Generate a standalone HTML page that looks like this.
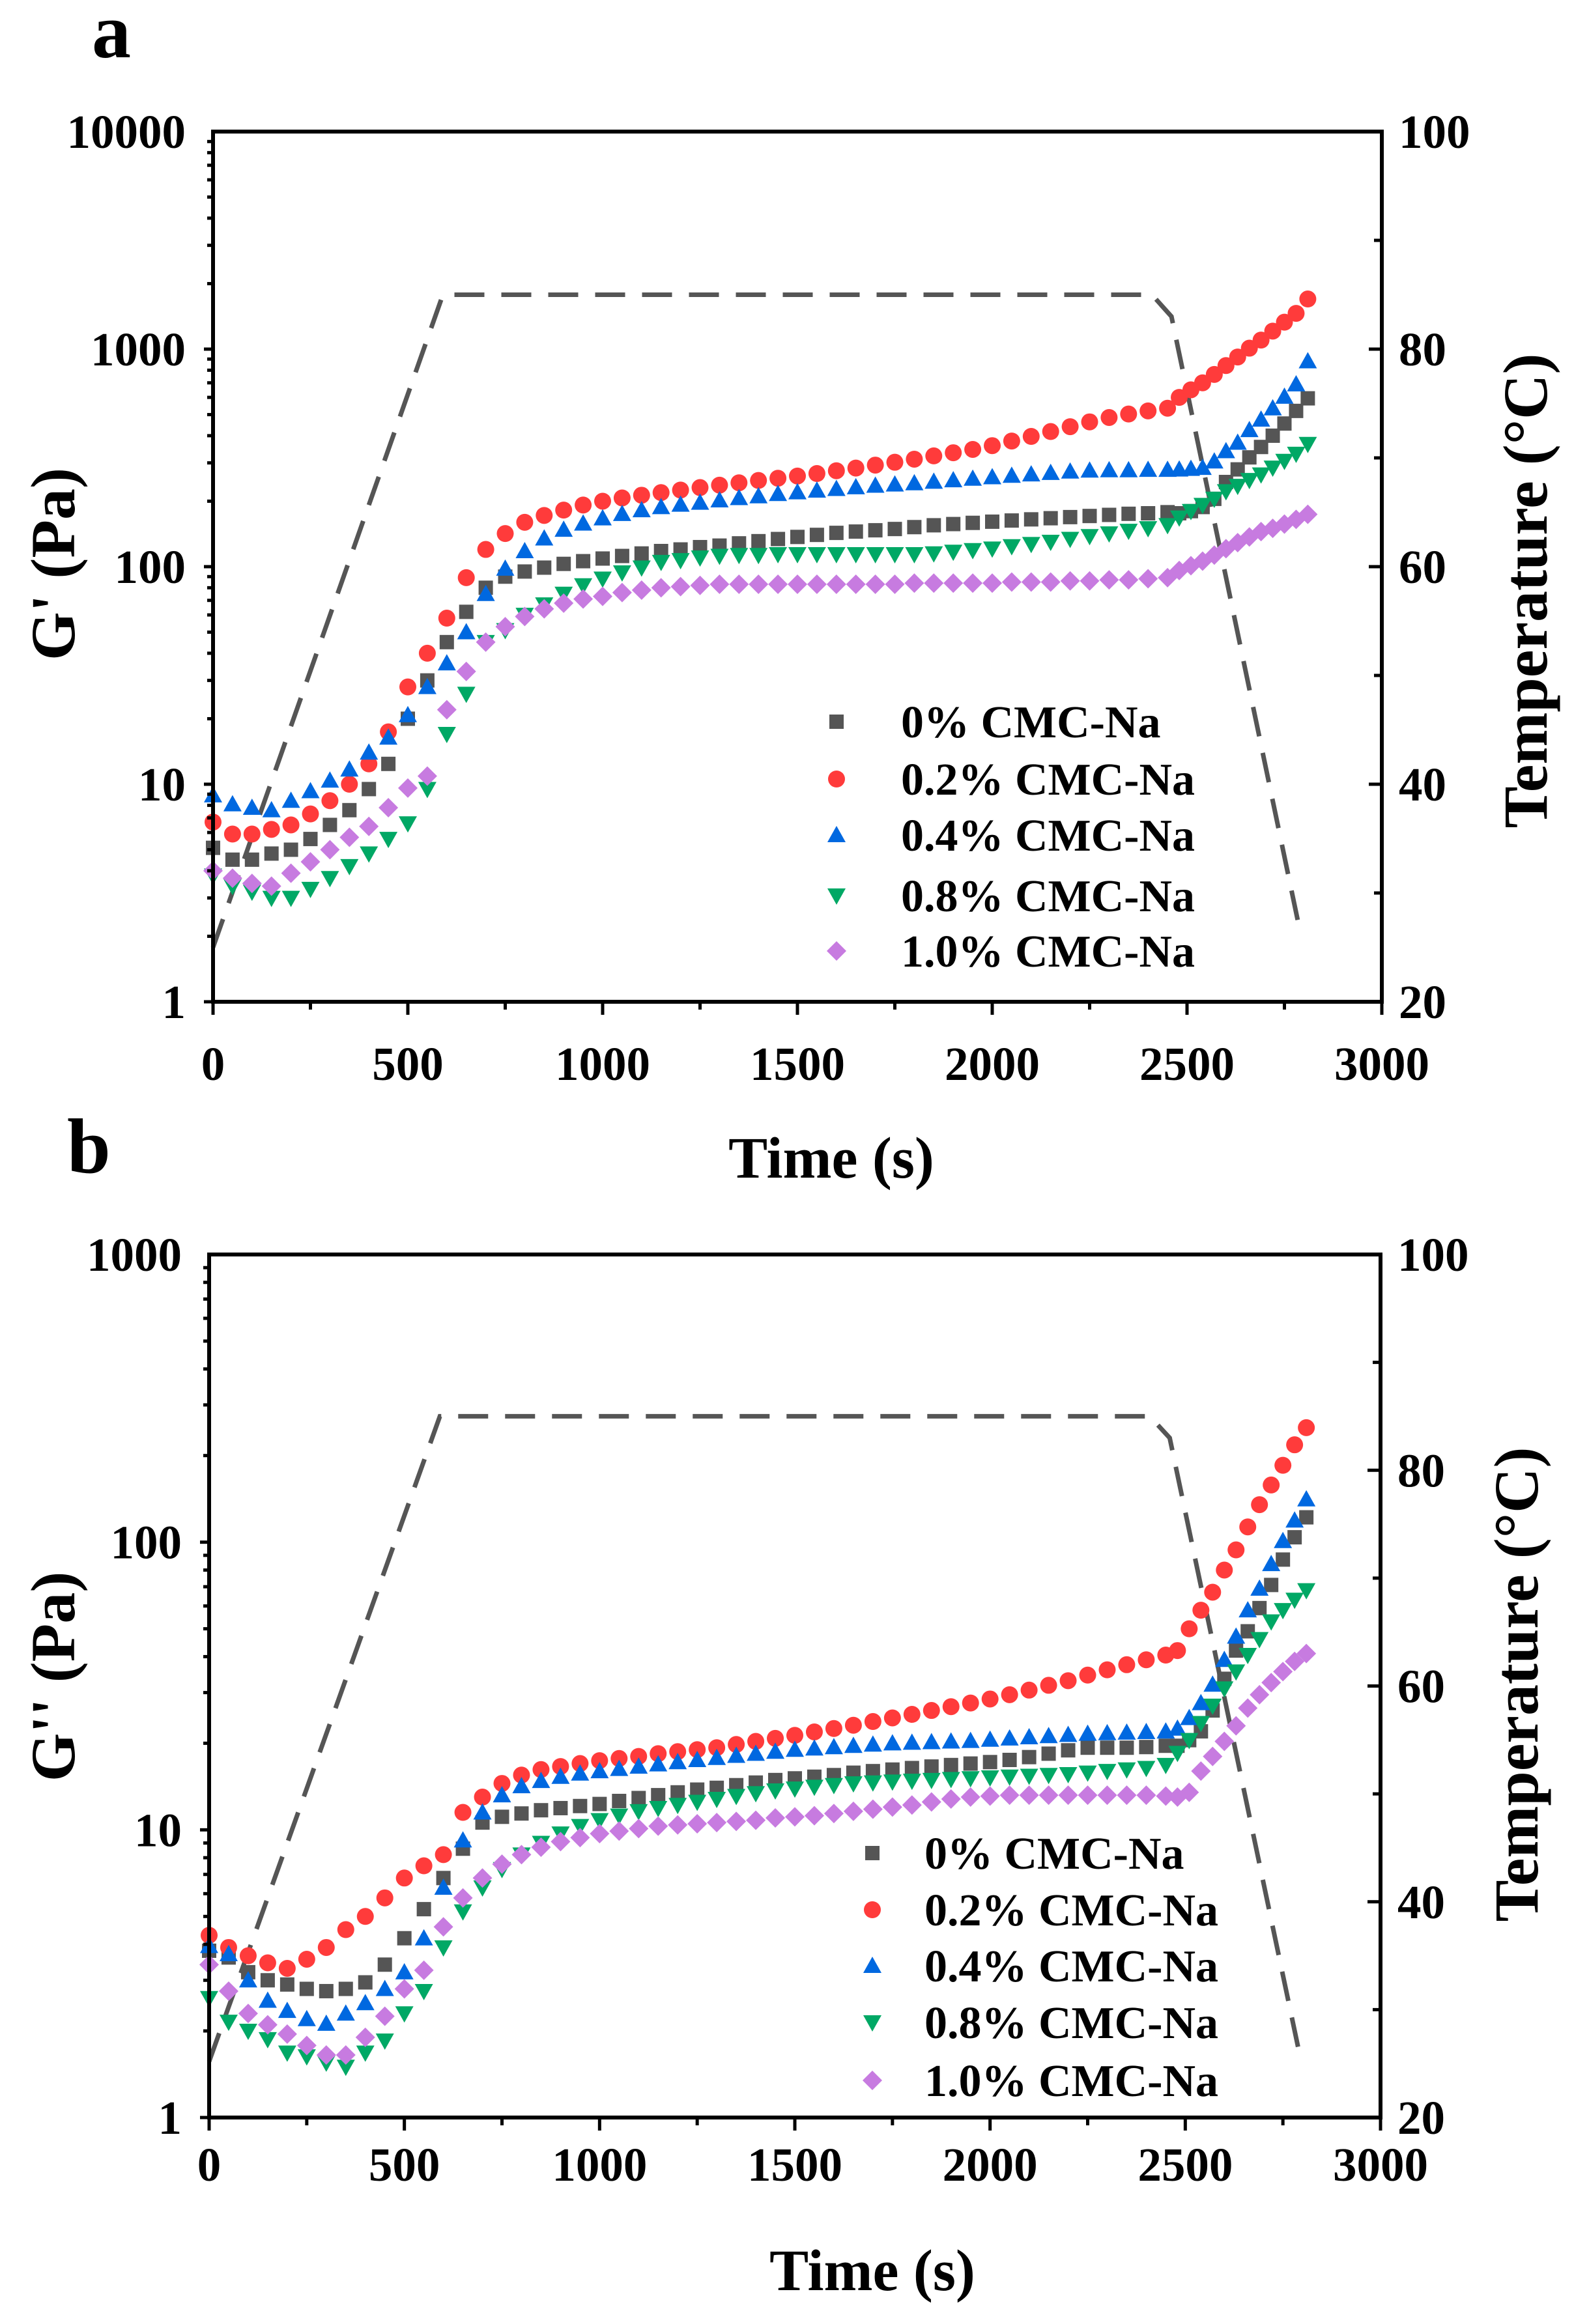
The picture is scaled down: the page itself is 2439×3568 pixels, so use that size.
<!DOCTYPE html>
<html><head><meta charset="utf-8"><style>
html,body{margin:0;padding:0;background:#fff}
svg{display:block}
text{font-family:"Liberation Serif",serif;font-weight:bold;fill:#000}
</style></head><body>
<svg id="fig" width="2439" height="3568" viewBox="0 0 2439 3568" xmlns="http://www.w3.org/2000/svg"></svg>
<script>
// shared time grid (s)
const timeGrid = [0,50,100,150,200,250,300,350,400,450,500,550,600,
650,700,750,800,850,900,950,1000,1050,1100,1150,1200,1250,1300,1350,1400,1450,1500,1550,1600,1650,1700,1750,1800,1850,1900,1950,2000,2050,2100,2150,2200,2250,2300,2350,2400,2450,
2480,2510,2540,2570,2600,2630,2660,2690,2720,2750,2780,2810];
// panel a: G' (Pa)
const gA0 = [5.1,4.5,4.5,4.8,5.0,5.6,6.5,7.6,9.5,12.4,20,30,45,
62,80,90,95,99,103,106,109,112,115,118,120,123,125,128,131,134,137,140,143,145,147,149,152,155,157,159,161,163,165,167,169,171,173,175,176,178,
176,180,188,205,245,280,318,355,400,455,520,594];
const gA2 = [6.7,5.9,5.9,6.2,6.5,7.3,8.4,10,12.4,17.4,28,40,58,
89,120,142,160,172,182,192,200,207,213,219,225,231,237,243,249,255,261,268,276,284,293,302,312,323,334,346,360,378,397,418,440,463,485,503,520,535,
600,650,700,765,840,920,1010,1100,1210,1330,1460,1700];
const gA4 = [8.9,8.1,7.8,7.6,8.4,9.3,10.4,11.7,14,16.4,20.8,28,36,
50,75,98,118,135,148,158,167,175,182,188,193,197,202,207,211,216,220,224,228,232,236,239,242,246,250,254,258,262,266,270,274,277,278,278,279,279,
280,282,285,305,340,372,425,475,535,605,690,880];
const gA8 = [3.8,3.4,3.2,3.0,3.0,3.3,3.7,4.2,4.8,5.6,6.6,9.5,17,
26,45,51,60,67,75,82,88,94,99,105,107,110,112,113,113,114,114,114,114,114,114,114,114,115,117,119,121,124,127,130,134,138,142,146,150,155,
168,180,192,205,222,235,250,265,285,306,330,366];
const gA10 = [4.0,3.7,3.5,3.4,3.9,4.4,5.0,5.7,6.4,7.8,9.6,10.9,22,
33,45,53,59,64,68,71,73,76,78,80,81,82,83,83,83,83,83,83,83,83,83,83,84,84,84,84,84,85,85,85,86,86,87,87,88,89,
96,101,106,113,121,129,137,145,150,157,165,174];
// panel b: G'' (Pa)
const gB0 = [3.8,3.6,3.2,3.0,2.9,2.8,2.75,2.8,2.95,3.4,4.2,5.3,6.8,
8.6,10.6,11.1,11.4,11.7,11.9,12.1,12.3,12.6,12.9,13.2,13.5,13.8,14.0,14.3,14.6,14.9,15.1,15.3,15.5,15.8,16.0,16.2,16.4,16.6,16.8,17.0,17.2,17.5,17.9,18.4,18.9,19.3,19.3,19.3,19.4,19.6,
19.6,20.5,22,26,33.5,42,49,59,71,87,104,122];
const gB2 = [4.3,3.9,3.65,3.45,3.3,3.55,3.9,4.5,5.0,5.8,6.8,7.5,8.2,
11.5,13,14.5,15.5,16.2,16.6,17.0,17.4,17.7,18.0,18.4,18.7,19.0,19.3,19.8,20.3,20.8,21.3,21.9,22.5,23.1,23.8,24.5,25.2,26.0,26.8,27.6,28.5,29.5,30.6,31.8,33.0,34.5,36,37.5,39,40.5,
42,50,58,67,80,94,113,135,158,185,218,250];
const gB4 = [3.95,3.7,3.0,2.55,2.35,2.2,2.12,2.3,2.5,2.8,3.2,4.2,6.3,
9.2,11.5,13.2,14.2,14.8,15.3,15.7,16.0,16.3,16.6,16.9,17.2,17.5,17.8,18.1,18.4,18.7,19.0,19.2,19.4,19.6,19.8,20.0,20.1,20.2,20.3,20.4,20.6,20.8,21.0,21.2,21.4,21.6,21.7,21.8,21.9,22,
22.5,24.5,27.6,32,39,47,58,69,84,101,119,141];
const gB8 = [2.6,2.15,2.0,1.87,1.68,1.63,1.55,1.5,1.68,1.85,2.3,2.75,3.9,
5.2,6.3,7.3,8.2,9.0,9.7,10.3,10.8,11.2,11.6,11.9,12.2,12.5,12.8,13.1,13.4,13.7,13.9,14.1,14.3,14.5,14.6,14.7,14.8,14.9,15.0,15.1,15.2,15.3,15.4,15.5,15.6,15.8,16.0,16.2,16.4,16.8,
18.5,20.5,23.5,27,31,35.5,40.5,46,53,58,63,68];
const gB10 = [3.4,2.75,2.3,2.1,1.95,1.78,1.65,1.65,1.9,2.25,2.8,3.25,4.6,
5.8,6.8,7.6,8.2,8.7,9.1,9.4,9.7,9.9,10.1,10.3,10.4,10.5,10.6,10.7,10.8,11.0,11.1,11.2,11.4,11.6,11.8,12.0,12.2,12.5,12.8,13.0,13.1,13.2,13.2,13.2,13.2,13.2,13.2,13.2,13.2,13.1,
13,13.5,16,18,20.3,23,26.5,29.5,32.5,35.5,38.5,41];
// temperature profiles
const tempTimeA = [0,590,2410,2460,2790];
const tempValA = [25,85,85,83,26.5];
const tempTimeB = [0,591,2409,2460,2792];
const tempValB = [25.2,85,85,83,26];
// tick labels
const xTicks = [0,500,1000,1500,2000,2500,3000];
const yTicksA = [1,10,100,1000,10000];
const yTicksB = [1,10,100,1000];
const tTicks = [20,40,60,80,100];
const seriesNames = ["0% CMC-Na","0.2% CMC-Na","0.4% CMC-Na","0.8% CMC-Na","1.0% CMC-Na"];

const NS = "http://www.w3.org/2000/svg";
const svg = document.getElementById('fig');
const colors = ["#555555","#ff3b3b","#0068e0","#00a865","#c77be0"];
const shapes = ["square","circle","up","down","diamond"];

function mk(tag, attrs, parent){const e=document.createElementNS(NS,tag);for(const k in attrs)e.setAttribute(k,attrs[k]);(parent||svg).appendChild(e);return e;}

function marker(g, shape, x, y, color){
  let e;
  if(shape==="square"){e=mk('rect',{x:x-11,y:y-11,width:22,height:22,fill:color},g);}
  else if(shape==="circle"){e=mk('circle',{cx:x,cy:y,r:13,fill:color},g);}
  else if(shape==="up"){e=mk('polygon',{points:`${x-14},${y+11} ${x+14},${y+11} ${x},${y-14}`,fill:color},g);}
  else if(shape==="down"){e=mk('polygon',{points:`${x-14},${y-11} ${x+14},${y-11} ${x},${y+14}`,fill:color},g);}
  else {e=mk('polygon',{points:`${x},${y-15} ${x+15},${y} ${x},${y+15} ${x-15},${y}`,fill:color},g);}
  return e;
}

function panel(cfg){
  const {L,R,T,B,decades,series,tempT,tempV,yTicks,letter,lx,ly,xLabelDy,yTitle,yTitleX,yTitleY,tTitleX,tTitleY,xTitleX,xTitleY,legX,legTX,legY,pname} = cfg;
  const xs = t => L + (t/3000)*(R-L);
  const ys = v => B - (Math.log10(v)/decades)*(B-T);
  const yt = c => B - ((c-20)/80)*(B-T);
  const g = mk('g',{});
  
  

  let d = tempT.map((t,i)=>(i?'L':'M')+xs(t).toFixed(1)+','+yt(tempV[i]).toFixed(1)).join(' ');
  const tl = mk('path',{d:d,fill:'none',stroke:'#555','stroke-width':7,'stroke-dasharray':'46,26'},g);
  
  

  series.forEach((vals,si)=>{
    const sg = mk('g',{},g);
    
    
    vals.forEach((v,i)=>{
      const m = marker(sg, shapes[si], xs(timeGrid[i]), ys(v), colors[si]);
      
      
    });
  });

  const ax = mk('g',{stroke:'#000','stroke-width':6,fill:'none'},g);
  
  
  mk('rect',{x:L,y:T,width:R-L,height:B-T},ax);
  for(let t=0;t<=3000;t+=250){
    const major = t%500===0;
    mk('line',{x1:xs(t),y1:B,x2:xs(t),y2:B+(major?20:12),'stroke-width':5},ax);
  }
  xTicks.forEach(t=>{
    const tx = mk('text',{x:xs(t),y:B+xLabelDy,'font-size':73,'text-anchor':'middle'},g);
    tx.textContent = t;
    
    
  });
  for(let dcd=0; dcd<decades; dcd++){
    for(let k=1;k<=9;k++){
      const v = Math.pow(10,dcd)*k;
      mk('line',{x1:L,y1:ys(v),x2:L-(k===1?14:9),y2:ys(v),'stroke-width':5},ax);
    }
  }
  yTicks.forEach(v=>{
    const tx = mk('text',{x:L-42,y:ys(v)+25,'font-size':73,'text-anchor':'end'},g);
    tx.textContent = v;
    
    
  });
  for(let c=20;c<=100;c+=10){
    mk('line',{x1:R,y1:yt(c),x2:R-(c%20===0?20:12),y2:yt(c),'stroke-width':5},ax);
  }
  tTicks.forEach(c=>{
    const tx = mk('text',{x:R+26,y:yt(c)+25,'font-size':73,'text-anchor':'start'},g);
    tx.textContent = c;
    
    
  });
  const xt = mk('text',{x:xTitleX,y:xTitleY,'font-size':90,'text-anchor':'middle'},g);
  xt.textContent = 'Time (s)';
  
  
  const ytl = mk('text',{x:0,y:0,'font-size':96,'text-anchor':'middle',transform:`translate(${yTitleX},${yTitleY}) rotate(-90)`},g);
  ytl.textContent = yTitle;
  
  
  const ttl = mk('text',{x:0,y:0,'font-size':96,'text-anchor':'middle',transform:`translate(${tTitleX},${tTitleY}) rotate(-90)`},g);
  ttl.textContent = 'Temperature (°C)';
  
  
  const pl = mk('text',{x:lx,y:ly,'font-size':120},g);
  pl.textContent = letter;
  
  
  const lg = mk('g',{},g);
  
  
  seriesNames.forEach((n,i)=>{
    const y = legY[i];
    const m = marker(lg, shapes[i], legX, y, colors[i]);
    
    
    const tx = mk('text',{x:legTX,y:y+24,'font-size':70},lg);
    tx.textContent = n;
    
    
  });
}

panel({L:327,R:2121,T:202,B:1538,decades:4,series:[gA0,gA2,gA4,gA8,gA10],tempT:tempTimeA,tempV:tempValA,
  yTicks:yTicksA,letter:'a',lx:141,ly:88,xLabelDy:120,yTitle:"G' (Pa)",yTitleX:114,yTitleY:866,
  tTitleX:2374,tTitleY:907,xTitleX:1276,xTitleY:1808,legX:1284,legTX:1383,legY:[1108,1196,1282,1375,1460],pname:'panel-a'});
panel({L:321,R:2119,T:1926,B:3251,decades:3,series:[gB0,gB2,gB4,gB8,gB10],tempT:tempTimeB,tempV:tempValB,
  yTicks:yTicksB,letter:'b',lx:103,ly:1800,xLabelDy:97,yTitle:"G'' (Pa)",yTitleX:114,yTitleY:2574,
  tTitleX:2360,tTitleY:2586,xTitleX:1339,xTitleY:3516,legX:1339,legTX:1419,legY:[2845,2932,3018,3105,3194],pname:'panel-b'});
</script>
</body></html>
